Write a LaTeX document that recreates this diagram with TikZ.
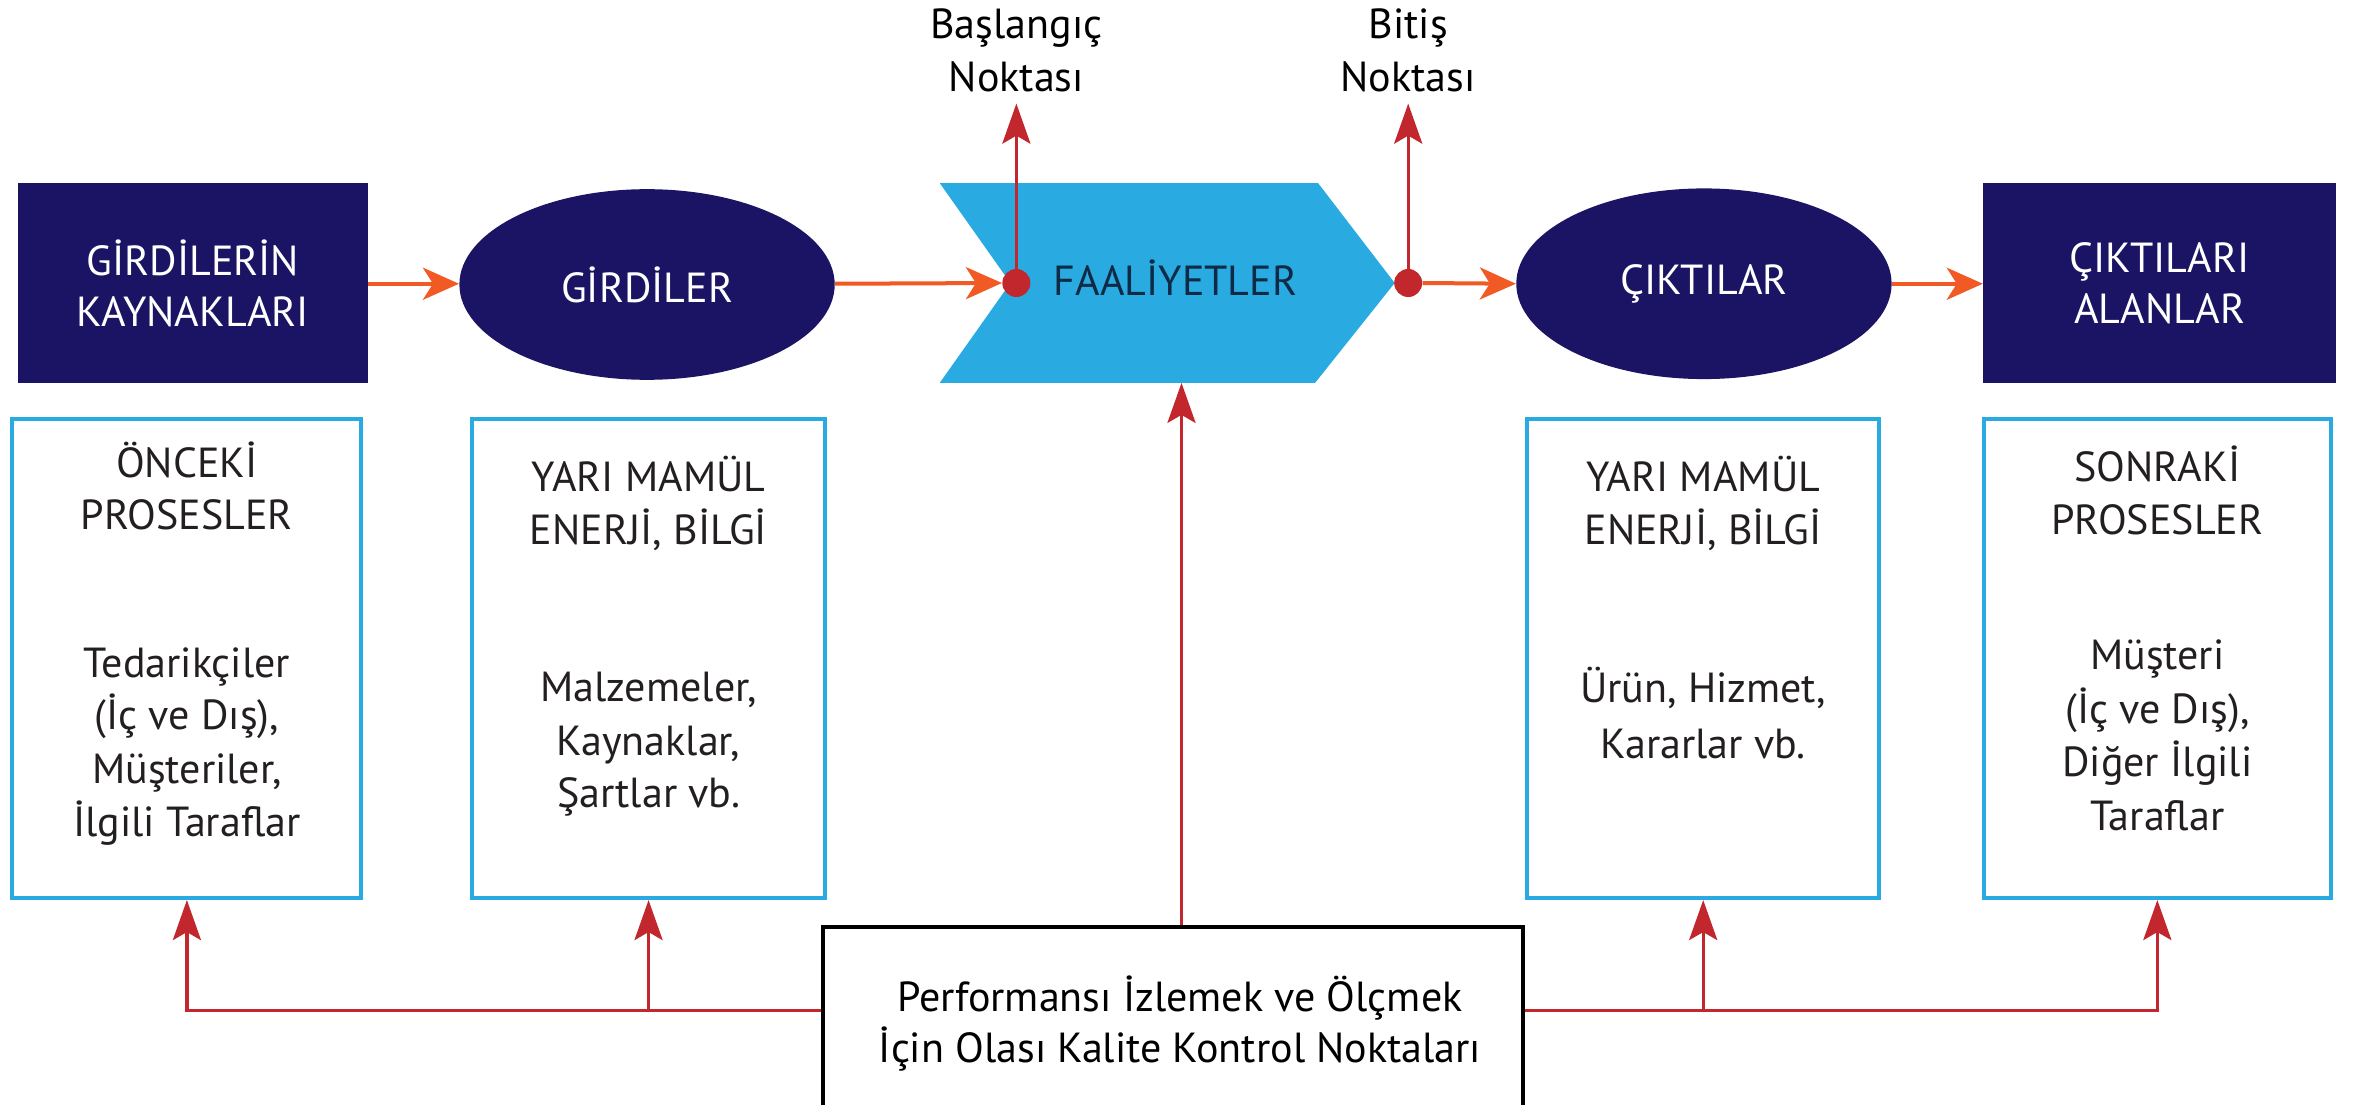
\documentclass[tikz,border=0pt]{standalone}
\usepackage{fontspec}
\setmainfont{PT Sans}
\usetikzlibrary{arrows.meta,shapes.geometric,calc}
\definecolor{navy}{HTML}{1B1464}
\definecolor{skyb}{HTML}{29ABE2}
\definecolor{orng}{HTML}{F15A24}
\definecolor{redc}{HTML}{C1272D}
\definecolor{txtc}{HTML}{231F20}
\definecolor{faal}{HTML}{0F2A45}
\begin{document}
\begin{tikzpicture}[x=0.75pt,y=-0.75pt,
  txt/.style={font=\fontsize{21}{25}\selectfont, inner sep=0pt, anchor=base, text=txtc},
  wtxt/.style={font=\fontsize{21}{25.5}\selectfont, text=white, align=center},
  navybox/.style={rectangle, fill=navy, inner sep=0pt, minimum height=99.75pt},
  navyell/.style={ellipse, fill=navy, inner sep=0pt, minimum width=187.5pt, minimum height=95.25pt},
  bluebox/.style={rectangle, draw=skyb, line width=2pt, inner sep=0pt, minimum height=239.5pt},
  blackbox/.style={rectangle, draw=black, line width=2pt, inner sep=0pt},
  dotc/.style={circle, fill=redc, inner sep=0pt, minimum size=14pt},
  oarr/.style={draw=orng, line width=2pt, -{Stealth[length=18pt,width=16pt,inset=5pt]}},
  rarr/.style={draw=redc, line width=1.7pt, -{Stealth[length=20pt,width=14pt,inset=4pt]}},
  rline/.style={draw=redc, line width=1.7pt}]
\useasboundingbox (0,0) rectangle (1568,736);

% top row
\node[navybox, minimum width=174.75pt, wtxt] (src) at (128.5,188.5) {GİRDİLERİN\\KAYNAKLARI};
\node[navyell, wtxt] (inp) at (431,189.5) {GİRDİLER};
\fill[skyb] (626,122) -- (878,122) -- (929,188.5) -- (876,255) -- (626,255) -- (673,188.5) -- cycle;
\node[txt, text=faal] (faal) at (783,196.5) {FAALİYETLER};
\node[navyell, wtxt] (out) at (1135,189) {ÇIKTILAR};
\node[navybox, minimum width=176.25pt, wtxt] (rcv) at (1438.5,188.5) {ÇIKTILARI\\ALANLAR};

% start / end points
\coordinate (stip) at (677,69);
\coordinate (etip) at (938,69);
\draw[rarr] (677,188.5) -- (stip);
\draw[rarr] (938,188.5) -- (etip);
\node[dotc] (sdot) at (677,188.5) {};
\node[dotc] (edot) at (938,188.5) {};
\node[txt, text=black] (sl1) at (677,25.6) {Başlangıç};
\node[txt, text=black] (sl2) at (677,61) {Noktası};
\node[txt, text=black] (el1) at (938,25.6) {Bitiş};
\node[txt, text=black] (el2) at (938,61) {Noktası};

% orange flow
\draw[oarr] (src.east |- 0,189) -- (inp.west |- 0,189);
\draw[oarr] (inp.east |- 0,189) -- (sdot.west);
\draw[oarr] (edot.east) -- (out.west);
\draw[oarr] (out.east |- 0,189) -- (rcv.west |- 0,189);

% blue boxes
\node[bluebox, minimum width=174.3pt] (b1) at (124.5,438.5) {};
\node[bluebox, minimum width=176.5pt] (b2) at (432,438.5) {};
\node[bluebox, minimum width=175.7pt] (b3) at (1134.5,438.5) {};
\node[bluebox, minimum width=173.5pt] (b4) at (1437,438.5) {};

\node[txt] (b1a) at (124.5,318) {ÖNCEKİ};
\node[txt] (b1b) at (124.5,353) {PROSESLER};
\node[txt] (b1c) at (124.5,451) {Tedarikçiler};
\node[txt] (b1d) at (124.5,486) {(İç ve Dış),};
\node[txt] (b1e) at (124.5,522) {Müşteriler,};
\node[txt] (b1f) at (124.5,557) {İlgili Taraflar};

\node[txt] (b2a) at (432,327.5) {YARI MAMÜL};
\node[txt] (b2b) at (432,363) {ENERJİ, BİLGİ};
\node[txt] (b2c) at (432,467) {Malzemeler,};
\node[txt] (b2d) at (432,503) {Kaynaklar,};
\node[txt] (b2e) at (432,538) {Şartlar vb.};

\node[txt] (b3a) at (1134.5,327.5) {YARI MAMÜL};
\node[txt] (b3b) at (1134.5,363) {ENERJİ, BİLGİ};
\node[txt] (b3c) at (1134.5,468) {Ürün, Hizmet,};
\node[txt] (b3d) at (1134.5,505) {Kararlar vb.};

\node[txt] (b4a) at (1437,321) {SONRAKİ};
\node[txt] (b4b) at (1437,356) {PROSESLER};
\node[txt] (b4c) at (1437,446) {Müşteri};
\node[txt] (b4d) at (1437,482) {(İç ve Dış),};
\node[txt] (b4e) at (1437,517) {Diğer İlgili};
\node[txt] (b4f) at (1437,553) {Taraflar};

% bottom control box
\node[blackbox, minimum width=349.8pt, minimum height=107pt] (ctl) at (781.5,688.7) {};
\node[txt, text=black] (ctla) at (786,674) {Performansı İzlemek ve Ölçmek};
\node[txt, text=black] (ctlb) at (786,708) {İçin Olası Kalite Kontrol Noktaları};

% red control connectors
\coordinate (hy) at (0,673);
\coordinate (vx) at (787,0);
\draw[rarr] (vx |- ctl.north) -- (vx |- 0,255);
\draw[rarr] (ctl.west |- hy) -| (b1.south);
\draw[rarr] (b2.south |- hy) -- (b2.south);
\draw[rarr] (ctl.east |- hy) -| (b4.south);
\draw[rarr] (b3.south |- hy) -- (b3.south);
\end{tikzpicture}
\end{document}
